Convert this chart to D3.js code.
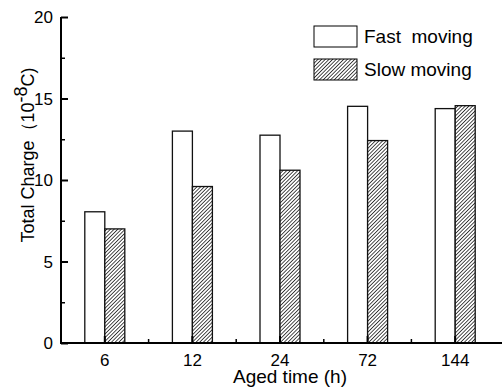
<!DOCTYPE html>
<html>
<head>
<meta charset="utf-8">
<script src="https://cdn.jsdelivr.net/npm/d3@7"></script>
<style>
  body { margin: 0; background: #fff; }
  text { font-family: "Liberation Sans", Arial, sans-serif; fill: #000; white-space: pre; }
</style>
</head>
<body>
<div id="chart"></div>
<script>
// chart data
var agedTimes = ["6", "12", "24", "72", "144"];
var fastMoving = [8.05, 13.0, 12.75, 14.52, 14.38];
var slowMoving = [7.0, 9.6, 10.6, 12.42, 14.56];
var yTicks = [0, 5, 10, 15, 20];

var svgWidth = 502;
var svgHeight = 390;

var margin = { top: 17, right: 2, bottom: 47, left: 61 };
var width = svgWidth - margin.left - margin.right;
var height = svgHeight - margin.top - margin.bottom;

var svg = d3.select("#chart")
  .append("svg")
  .attr("width", svgWidth)
  .attr("height", svgHeight);

// hatch pattern for slow moving bars
var defs = svg.append("defs");
defs.append("pattern")
  .attr("id", "hatch")
  .attr("patternUnits", "userSpaceOnUse")
  .attr("width", 2.6)
  .attr("height", 2.6)
  .attr("patternTransform", "rotate(45)")
  .call(function(p) {
    p.append("rect").attr("width", 2.6).attr("height", 2.6).attr("fill", "#fff");
    p.append("line")
      .attr("x1", 0).attr("y1", 0).attr("x2", 0).attr("y2", 2.6)
      .attr("stroke", "#000").attr("stroke-width", 1.4);
  });

var chartGroup = svg.append("g")
  .attr("transform", `translate(${margin.left}, ${margin.top})`);

var xScale = d3.scaleBand()
  .domain(agedTimes)
  .range([0, width - 1])
  .padding(0);

var yScale = d3.scaleLinear()
  .domain([0, 20])
  .range([height, 0]);

var barWidth = 20;

// fast moving bars
chartGroup.selectAll(".fast")
  .data(fastMoving)
  .enter()
  .append("rect")
  .attr("class", "fast")
  .attr("x", (d, i) => xScale(agedTimes[i]) + xScale.bandwidth() / 2 - barWidth)
  .attr("y", d => yScale(d))
  .attr("width", barWidth)
  .attr("height", d => height - yScale(d))
  .attr("fill", "#fff")
  .attr("stroke", "#111")
  .attr("stroke-width", 1.3);

// slow moving bars
chartGroup.selectAll(".slow")
  .data(slowMoving)
  .enter()
  .append("rect")
  .attr("class", "slow")
  .attr("x", (d, i) => xScale(agedTimes[i]) + xScale.bandwidth() / 2)
  .attr("y", d => yScale(d))
  .attr("width", barWidth)
  .attr("height", d => height - yScale(d))
  .attr("fill", "url(#hatch)")
  .attr("stroke", "#111")
  .attr("stroke-width", 1.3);

// y axis, inward ticks
var leftAxis = d3.axisRight(yScale)
  .tickValues(yTicks)
  .tickSize(7)
  .tickFormat("");
var yAxis = chartGroup.append("g").call(leftAxis);
yAxis.select(".domain").attr("d", `M0,${height}V0`);
yAxis.selectAll("line, path").attr("stroke", "#000").attr("stroke-width", 2);

var minorY = d3.axisRight(yScale)
  .tickValues([2.5, 7.5, 12.5, 17.5])
  .tickSize(4)
  .tickFormat("");
var yMinor = chartGroup.append("g").call(minorY);
yMinor.select(".domain").remove();
yMinor.selectAll("line").attr("stroke", "#000").attr("stroke-width", 1.5);

chartGroup.selectAll(".ylab")
  .data(yTicks)
  .enter()
  .append("text")
  .attr("class", "ylab")
  .attr("x", -8)
  .attr("y", d => yScale(d) + 6)
  .attr("text-anchor", "end")
  .style("font-size", "17px")
  .text(d => d);

// x axis, inward ticks
var bottomAxis = d3.axisTop(xScale)
  .tickSize(7)
  .tickSizeOuter(0)
  .tickFormat("");
var xAxis = chartGroup.append("g")
  .attr("transform", `translate(0, ${height})`)
  .call(bottomAxis);
xAxis.select(".domain").attr("d", `M-1,0H${width + 2}`);
xAxis.selectAll("line, path").attr("stroke", "#000").attr("stroke-width", 2);

var minorX = agedTimes.slice(1).map(d => xScale(d));
xAxis.selectAll(".minor")
  .data(minorX)
  .enter()
  .append("line")
  .attr("class", "minor")
  .attr("x1", d => d).attr("x2", d => d)
  .attr("y1", 0).attr("y2", -4)
  .attr("stroke", "#000").attr("stroke-width", 1.5);

chartGroup.selectAll(".xlab")
  .data(agedTimes)
  .enter()
  .append("text")
  .attr("class", "xlab")
  .attr("x", d => xScale(d) + xScale.bandwidth() / 2)
  .attr("y", height + 23)
  .attr("text-anchor", "middle")
  .style("font-size", "17px")
  .text(d => d);

// axis titles
svg.append("text")
  .attr("x", 290)
  .attr("y", 383)
  .attr("text-anchor", "middle")
  .style("font-size", "19px")
  .text("Aged time (h)");

var yTitle = svg.append("text")
  .attr("transform", "translate(34, 155) rotate(-90)")
  .attr("text-anchor", "middle")
  .style("font-size", "18px");
yTitle.append("tspan").text("Total Charge\uFF0810");
yTitle.append("tspan").attr("dy", -7).text("-8");
yTitle.append("tspan").attr("dy", 7).text("C)");

// legend
var legendItems = [
  { label: "Fast  moving", fill: "#fff" },
  { label: "Slow moving", fill: "url(#hatch)" }
];
var legend = svg.selectAll(".legend")
  .data(legendItems)
  .enter()
  .append("g")
  .attr("class", "legend")
  .attr("transform", (d, i) => `translate(314, ${26 + i * 33})`);
legend.append("rect")
  .attr("width", 43)
  .attr("height", 21)
  .attr("fill", d => d.fill)
  .attr("stroke", "#000")
  .attr("stroke-width", 1);
legend.append("text")
  .attr("x", 50)
  .attr("y", 17)
  .style("font-size", "19px")
  .text(d => d.label);
</script>
</body>
</html>
